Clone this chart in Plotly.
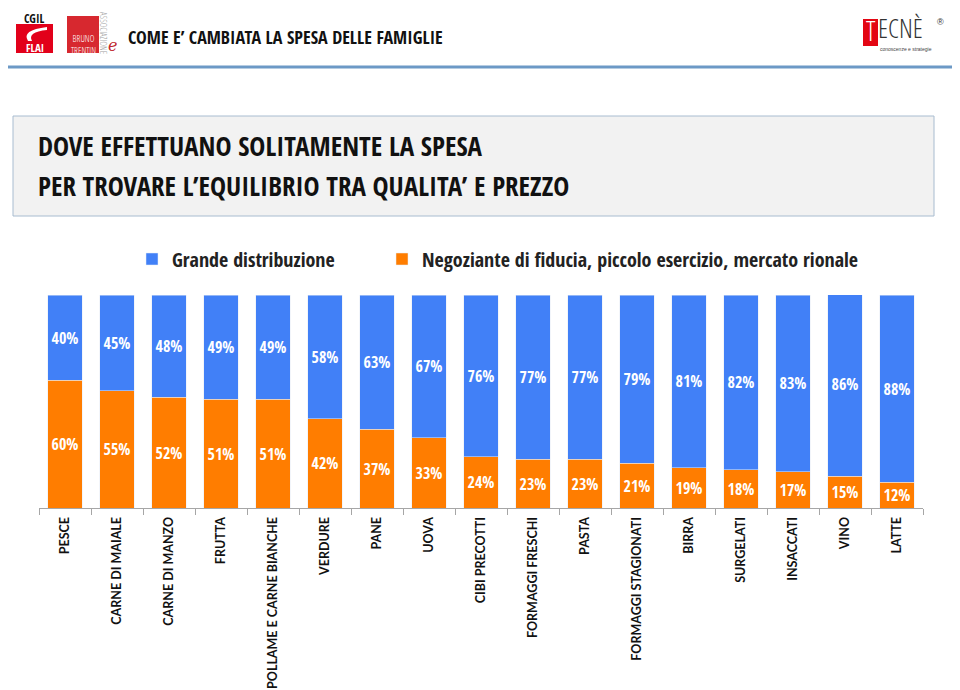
import plotly.graph_objects as go

categories = ["PESCE", "CARNE DI MAIALE", "CARNE DI MANZO", "FRUTTA",
              "POLLAME E CARNE BIANCHE", "VERDURE", "PANE", "UOVA",
              "CIBI PRECOTTI", "FORMAGGI FRESCHI", "PASTA",
              "FORMAGGI STAGIONATI", "BIRRA", "SURGELATI", "INSACCATI",
              "VINO", "LATTE"]
grande_distribuzione = [40, 45, 48, 49, 49, 58, 63, 67, 76, 77, 77, 79, 81, 82, 83, 86, 88]
negoziante = [60, 55, 52, 51, 51, 42, 37, 33, 24, 23, 23, 21, 19, 18, 17, 15, 12]
series_names = ["Grande distribuzione",
                "Negoziante di fiducia, piccolo esercizio, mercato rionale"]
header_title = "COME E’ CAMBIATA LA SPESA DELLE FAMIGLIE"
box_title_lines = ["DOVE EFFETTUANO SOLITAMENTE LA SPESA",
                   "PER TROVARE L’EQUILIBRIO TRA QUALITA’ E PREZZO"]

BLUE = "#4180F7"
ORANGE = "#FF7D00"
NARROW = "'Open Sans Condensed', 'Noto Sans', sans-serif"
NARROW_LIGHT = "'Open Sans Condensed Light', 'Open Sans Condensed', sans-serif"

# page body has an 8px margin: figure is drawn from (8, 8) of the window
OFF = 8
W, H = 960 - OFF, 690 - OFF
# plot area in window pixels
L, R, T, B = 39, 923, 295, 508


def px(x):
    return (x - L) / (R - L)


def py(y):
    return (B - y) / (B - T)


def cx(x):
    return (x - OFF) / W


def cy(y):
    return 1 - (y - OFF) / H


fig = go.Figure()
fig.add_trace(go.Bar(
    x=categories, y=negoziante, name=series_names[1], marker_color=ORANGE,
    legend="legend2", texttemplate="%{y}%", textposition="inside",
    insidetextanchor="middle", textangle=0,
    textfont=dict(color="white", size=16, family=NARROW),
    hoverinfo="x+y+name"))
fig.add_trace(go.Bar(
    x=categories, y=grande_distribuzione, name=series_names[0], marker_color=BLUE,
    legend="legend", texttemplate="%{y}%", textposition="inside",
    insidetextanchor="middle", textangle=0,
    textfont=dict(color="white", size=16, family=NARROW),
    hoverinfo="x+y+name"))

shapes = []
annotations = []

# header rule
shapes.append(dict(type="line", xref="paper", yref="paper",
                   x0=px(OFF), x1=px(955), y0=py(67), y1=py(67),
                   line=dict(color="#6C99C6", width=3)))
# title box
shapes.append(dict(type="rect", xref="paper", yref="paper",
                   x0=px(13), x1=px(934), y0=py(116), y1=py(216),
                   fillcolor="#F2F2F2", line=dict(color="#A8BCD0", width=1),
                   layer="below"))
for i, line in enumerate(box_title_lines):
    annotations.append(dict(text=line, xref="paper", yref="paper",
                            x=px(36), y=py(146 + 39 * i), xanchor="left",
                            yanchor="middle", showarrow=False,
                            font=dict(family=NARROW, size=27, color="#111111")))
# header title
annotations.append(dict(text=header_title, xref="paper", yref="paper",
                        x=px(126), y=py(37), xanchor="left", yanchor="middle",
                        showarrow=False,
                        font=dict(family=NARROW, size=18, color="#111111")))

# CGIL FLAI logo
annotations.append(dict(text="CGIL", xref="paper", yref="paper",
                        x=px(34), y=py(18), xanchor="center", yanchor="middle",
                        showarrow=False, borderpad=0,
                        font=dict(family=NARROW, size=12, color="#111111")))
shapes.append(dict(type="rect", xref="paper", yref="paper",
                   x0=px(16), x1=px(53), y0=py(24), y1=py(53),
                   fillcolor="#E2001A", line=dict(width=0)))
shapes.append(dict(type="path", xref="paper", yref="paper",
                   path=(f"M {px(47)},{py(27)} Q {px(21)},{py(30)} {px(28)},{py(41)} "
                         f"L {px(32)},{py(41)} Q {px(27)},{py(32)} {px(47)},{py(30)} Z"),
                   fillcolor="white", line=dict(width=0)))
annotations.append(dict(text="FLAI", xref="paper", yref="paper",
                        x=px(34.5), y=py(47), xanchor="center", yanchor="middle",
                        showarrow=False,
                        font=dict(family=NARROW, size=11, color="white")))
# Bruno Trentin logo
shapes.append(dict(type="rect", xref="paper", yref="paper",
                   x0=px(67), x1=px(99), y0=py(16), y1=py(53),
                   fillcolor="#D7282F", line=dict(width=0)))
annotations.append(dict(text="BRUNO<br>TRENTIN", xref="paper", yref="paper",
                        x=px(83), y=py(44), xanchor="center", yanchor="middle",
                        showarrow=False,
                        font=dict(family=NARROW_LIGHT, size=9, color="white")))
annotations.append(dict(text="ASSOCIAZIONE", xref="paper", yref="paper",
                        x=px(104), y=py(33), xanchor="center", yanchor="middle",
                        textangle=90, showarrow=False,
                        font=dict(family=NARROW_LIGHT, size=9, color="#9A9A9A")))
annotations.append(dict(text="<i>e</i>", xref="paper", yref="paper",
                        x=px(112), y=py(45), xanchor="center", yanchor="middle",
                        showarrow=False,
                        font=dict(family="DejaVu Serif, serif", size=16,
                                  color="#C0272D")))
# TECNE logo
shapes.append(dict(type="rect", xref="paper", yref="paper",
                   x0=px(863), x1=px(878), y0=py(19), y1=py(46),
                   fillcolor="#E30613", line=dict(width=0)))
annotations.append(dict(text="T", xref="paper", yref="paper",
                        x=px(870.5), y=py(30), xanchor="center", yanchor="middle",
                        showarrow=False, borderpad=0,
                        font=dict(family=NARROW_LIGHT, size=27, color="white")))
annotations.append(dict(text="ECNÈ", xref="paper", yref="paper",
                        x=px(877), y=py(28), xanchor="left", yanchor="middle",
                        showarrow=False, borderpad=0,
                        font=dict(family=NARROW_LIGHT, size=26, color="#333333")))
annotations.append(dict(text="®", xref="paper", yref="paper",
                        x=px(941), y=py(22), xanchor="center", yanchor="middle",
                        showarrow=False,
                        font=dict(family="Liberation Sans, sans-serif", size=9,
                                  color="#333333")))
annotations.append(dict(text="conoscenze e strategie", xref="paper", yref="paper",
                        x=px(879), y=py(49), xanchor="left", yanchor="middle",
                        showarrow=False, borderpad=0,
                        font=dict(family="Liberation Sans, sans-serif", size=5,
                                  color="#444444")))

legend_common = dict(orientation="h", xanchor="left", xref="container",
                     yanchor="middle", yref="container", traceorder="normal",
                     font=dict(family=NARROW, size=20, color="#222222"),
                     bgcolor="rgba(0,0,0,0)")

fig.update_layout(
    width=W, height=H,
    margin=dict(l=L - OFF, r=(OFF + W) - R, t=T - OFF, b=(OFF + H) - B, pad=0,
                autoexpand=False),
    barmode="stack", bargap=0.34,
    uniformtext=dict(minsize=16, mode="show"),
    plot_bgcolor="white", paper_bgcolor="white",
    showlegend=True,
    legend=dict(x=cx(132), y=cy(259), **legend_common),
    legend2=dict(x=cx(382), y=cy(259), **legend_common),
    xaxis=dict(type="category", tickangle=-90, showline=True, automargin=False,
               linecolor="#A6A6A6", linewidth=1, ticks="outside",
               tickson="boundaries", ticklen=6, tickcolor="#A6A6A6",
               showgrid=False, ticklabelstandoff=3,
               tickfont=dict(family="Lato, Open Sans, sans-serif", size=12.5,
                             color="#111111", weight="bold")),
    yaxis=dict(range=[0, 100], visible=False, showgrid=False, fixedrange=True),
    shapes=shapes, annotations=annotations,
)

fig.write_html("out.html")
